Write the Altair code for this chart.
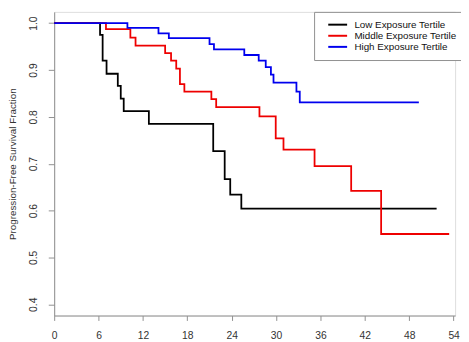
import altair as alt
import pandas as pd

groups = ["Low Exposure Tertile", "Middle Exposure Tertile", "High Exposure Tertile"]
colors = ["#000000", "#ee0000", "#0000ee"]

low_t = [0, 6.2, 6.55, 7.08, 8.6, 9.0, 9.4, 12.8, 21.5, 23.05, 23.8, 25.3, 51.7]
low_s = [1.0, 0.975, 0.920, 0.892, 0.866, 0.839, 0.812, 0.785, 0.727, 0.667, 0.634, 0.604, 0.604]

mid_t = [0, 7.0, 10.3, 11.0, 15.0, 15.8, 16.5, 17.0, 17.6, 21.25, 21.9, 27.75, 29.95, 31.0, 35.2, 40.15, 44.2, 53.4]
mid_s = [1.0, 0.987, 0.969, 0.952, 0.936, 0.920, 0.903, 0.870, 0.854, 0.838, 0.821, 0.801, 0.754, 0.730, 0.695, 0.642, 0.550, 0.550]

high_t = [0, 9.9, 14.1, 15.5, 21.0, 21.6, 25.7, 27.65, 28.6, 29.3, 29.65, 32.75, 33.2, 49.3]
high_s = [1.0, 0.990, 0.978, 0.968, 0.955, 0.944, 0.932, 0.920, 0.906, 0.890, 0.873, 0.854, 0.831, 0.831]

x_ticks = [0, 6, 12, 18, 24, 30, 36, 42, 48, 54]
y_ticks = [0.4, 0.5, 0.6, 0.7, 0.8, 0.9, 1.0]

rows = []
for g, ts, ss in zip(groups, [low_t, mid_t, high_t], [low_s, mid_s, high_s]):
    for i, (t, s) in enumerate(zip(ts, ss)):
        rows.append({"group": g, "time": t, "surv": s, "idx": i})
df = pd.DataFrame(rows)

FONT = "Liberation Sans"
TXT = "#333333"
GRAY = "#909090"

chart = alt.Chart(df).mark_line(interpolate="step-after", strokeWidth=1.8).encode(
    x=alt.X("time:Q",
            scale=alt.Scale(domain=[0, 54.2], nice=False, zero=False),
            axis=alt.Axis(values=x_ticks, title=None, grid=False, tickSize=5,
                          labelPadding=15.5, labelBaseline="middle", labelFontSize=10.5,
                          labelFont=FONT, labelColor=TXT, domainColor=GRAY, tickColor=GRAY,
                          labelFlush=False)),
    y=alt.Y("surv:Q",
            scale=alt.Scale(domain=[0.376, 1.024], nice=False, zero=False),
            axis=alt.Axis(values=y_ticks, format=".1f", grid=False, tickSize=6,
                          labelAngle=270, labelAlign="center", labelBaseline="middle",
                          labelPadding=15, labelFontSize=10.5, labelFont=FONT, labelColor=TXT,
                          domainColor=GRAY, tickColor=GRAY, labelFlush=False,
                          title="Progression-Free Survival Fraction", titleFont=FONT,
                          titleFontSize=10, titleFontWeight="normal", titleColor=TXT,
                          titleAngle=270, titleAlign="center", titleBaseline="alphabetic",
                          titleX=-39, titleY=154.5)),
    color=alt.Color("group:N",
                    scale=alt.Scale(domain=groups, range=colors),
                    legend=alt.Legend(title=None, orient="none", legendX=264.5, legendY=0,
                                      fillColor="white", strokeColor=GRAY, padding=8,
                                      cornerRadius=0, symbolType="M-2.4,0H2.4",
                                      symbolSize=64, symbolStrokeWidth=2, symbolOffset=11,
                                      labelOffset=12, rowPadding=1.3, labelFont=FONT,
                                      labelFontSize=10, labelColor="#111111",
                                      labelLimit=300)),
    order="idx:Q",
).properties(
    width=408, height=309,
    autosize=alt.AutoSizeParams(type="none"),
    padding={"left": 47, "top": 1, "right": 6, "bottom": 25},
).configure_view(stroke=GRAY, strokeWidth=1).configure(background="white")

chart.save("out.html", embed_options={"renderer": "svg", "actions": False})
